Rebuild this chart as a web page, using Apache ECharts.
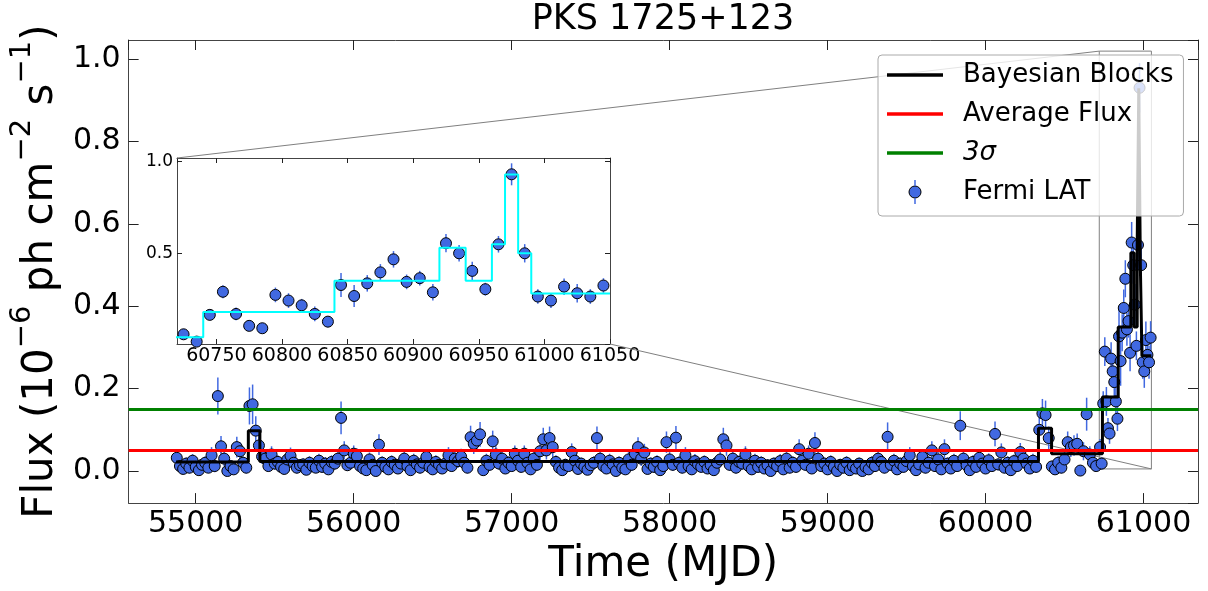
<!DOCTYPE html>
<html>
<head>
<meta charset="utf-8">
<script src="https://cdn.jsdelivr.net/npm/echarts@6.0.0/dist/echarts.min.js"></script>
<style>html,body{margin:0;padding:0;background:#fff;}#c{width:1208px;height:591px;}</style>
</head>
<body>
<div id="c"></div>
<script>
// ---------------- data ----------------
const tPre = [
54880,54900,54920,54940,54960,54980,55000,55020,55040,55060,
55080,55100,55120,55140,55160,55180,55200,55220,55240,55260,
55280,55300,55320,55340,55360,55380,55400,55420,55440,55460,
55480,55500,55520,55540,55560,55580,55600,55620,55640,55660,
55680,55700,55720,55740,55760,55780,55800,55820,55840,55860,
55880,55900,55920,55940,55960,55980,56000,56020,56040,56060,
56080,56100,56120,56140,56160,56180,56200,56220,56240,56260,
56280,56300,56320,56340,56360,56380,56400,56420,56440,56460,
56480,56500,56520,56540,56560,56580,56600,56620,56640,56660,
56680,56700,56720,56740,56760,56780,56800,56820,56840,56860,
56880,56900,56920,56940,56960,56980,57000,57020,57040,57060,
57080,57100,57120,57140,57160,57180,57200,57220,57240,57260,
57280,57300,57320,57340,57360,57380,57400,57420,57440,57460,
57480,57500,57520,57540,57560,57580,57600,57620,57640,57660,
57680,57700,57720,57740,57760,57780,57800,57820,57840,57860,
57880,57900,57920,57940,57960,57980,58000,58020,58040,58060,
58080,58100,58120,58140,58160,58180,58200,58220,58240,58260,
58280,58300,58320,58340,58360,58380,58400,58420,58440,58460,
58480,58500,58520,58540,58560,58580,58600,58620,58640,58660,
58680,58700,58720,58740,58760,58780,58800,58820,58840,58860,
58880,58900,58920,58940,58960,58980,59000,59020,59040,59060,
59080,59100,59120,59140,59160,59180,59200,59220,59240,59260,
59280,59300,59320,59340,59360,59380,59400,59420,59440,59460,
59480,59500,59520,59540,59560,59580,59600,59620,59640,59660,
59680,59700,59720,59740,59760,59780,59800,59820,59840,59860,
59880,59900,59920,59940,59960,59980,60000,60020,60040,60060,
60080,60100,60120,60140,60160,60180,60200,60220,60240,60260,
60280,60300,60320,60340,60360,60380,60400,60420,60440,60460,
60480,60500,60520,60540,60560,60580,60600,60620,60640,60660,
60680,60700];
const fPre = [
0.032,0.012,0.005,0.018,0.008,0.025,0.010,0.002,0.015,0.020,
0.008,0.038,0.012,0.182,0.060,0.030,0.000,0.012,0.004,0.058,
0.048,0.020,0.008,0.158,0.162,0.098,0.062,0.035,0.030,0.012,
0.040,0.018,0.022,0.010,0.005,0.028,0.037,0.020,0.008,0.014,
0.016,0.003,0.020,0.012,0.008,0.025,0.010,0.018,0.004,0.022,
0.018,0.030,0.129,0.050,0.014,0.020,0.042,0.036,0.012,0.006,
0.002,0.028,0.015,0.000,0.064,0.020,0.010,0.004,0.022,0.015,
0.006,0.018,0.030,0.012,0.002,0.025,0.016,0.008,0.020,0.034,
0.010,0.004,0.022,0.015,0.006,0.018,0.038,0.012,0.030,0.024,
0.035,0.020,0.008,0.082,0.066,0.074,0.089,0.002,0.025,0.015,
0.072,0.040,0.018,0.030,0.006,0.020,0.012,0.042,0.025,0.010,
0.042,0.020,0.004,0.030,0.015,0.048,0.077,0.050,0.080,0.058,
0.022,0.008,0.002,0.015,0.012,0.046,0.025,0.005,0.018,0.010,
0.003,0.014,0.020,0.080,0.030,0.012,0.006,0.025,0.016,0.000,
0.020,0.008,0.004,0.028,0.015,0.042,0.058,0.030,0.045,0.005,
0.018,0.010,0.022,0.002,0.012,0.070,0.028,0.015,0.081,0.020,
0.008,0.038,0.012,0.004,0.024,0.016,0.010,0.022,0.006,0.014,
0.002,0.020,0.028,0.077,0.062,0.015,0.030,0.008,0.022,0.018,
0.040,0.012,0.004,0.025,0.010,0.020,0.006,0.014,0.000,0.018,
0.012,0.024,0.004,0.030,0.008,0.020,0.010,0.053,0.025,0.015,
0.042,0.006,0.068,0.030,0.012,0.018,0.004,0.022,0.010,0.000,
0.015,0.008,0.020,0.002,0.012,0.006,0.018,0.000,0.010,0.004,
0.020,0.012,0.030,0.022,0.008,0.083,0.015,0.025,0.004,0.018,
0.010,0.024,0.038,0.012,0.002,0.016,0.034,0.008,0.020,0.050,
0.012,0.028,0.004,0.053,0.018,0.006,0.025,0.012,0.110,0.030,
0.014,0.002,0.022,0.010,0.032,0.018,0.006,0.026,0.012,0.090,
0.016,0.045,0.008,0.020,0.002,0.024,0.012,0.046,0.030,0.018,
0.006,0.025,0.010,0.100,0.140,0.136,0.080,0.011,0.004,0.020,
0.008,0.028,0.070,0.058,0.062,0.066,0.001,0.048,0.138,0.040,
0.020,0.012];
const ePre = [
0.016,0.014,0.013,0.015,0.014,0.016,0.014,0.012,0.015,0.016,
0.013,0.020,0.015,0.045,0.025,0.018,0.012,0.015,0.013,0.025,
0.022,0.016,0.014,0.045,0.048,0.035,0.025,0.018,0.018,0.014,
0.020,0.015,0.016,0.014,0.013,0.017,0.020,0.016,0.014,0.015,
0.015,0.012,0.016,0.014,0.013,0.017,0.014,0.016,0.012,0.016,
0.015,0.018,0.040,0.022,0.014,0.016,0.020,0.019,0.014,0.013,
0.012,0.017,0.015,0.012,0.025,0.016,0.014,0.013,0.016,0.015,
0.013,0.015,0.018,0.014,0.012,0.017,0.015,0.014,0.016,0.019,
0.014,0.013,0.016,0.015,0.013,0.015,0.020,0.014,0.018,0.017,
0.019,0.016,0.014,0.028,0.025,0.026,0.030,0.012,0.017,0.015,
0.026,0.020,0.015,0.018,0.013,0.016,0.014,0.020,0.017,0.014,
0.020,0.016,0.013,0.018,0.015,0.022,0.028,0.022,0.028,0.024,
0.016,0.014,0.012,0.015,0.014,0.021,0.017,0.013,0.015,0.014,
0.012,0.015,0.016,0.028,0.018,0.014,0.013,0.017,0.015,0.012,
0.016,0.014,0.013,0.018,0.015,0.020,0.024,0.018,0.021,0.013,
0.015,0.014,0.016,0.012,0.014,0.026,0.018,0.015,0.028,0.016,
0.014,0.020,0.014,0.013,0.017,0.015,0.014,0.016,0.013,0.015,
0.012,0.016,0.018,0.028,0.025,0.015,0.018,0.014,0.016,0.015,
0.020,0.014,0.013,0.017,0.014,0.016,0.013,0.015,0.012,0.015,
0.014,0.017,0.013,0.018,0.014,0.016,0.014,0.024,0.017,0.015,
0.020,0.013,0.026,0.018,0.014,0.015,0.013,0.016,0.014,0.012,
0.015,0.014,0.016,0.012,0.014,0.013,0.015,0.012,0.014,0.013,
0.016,0.014,0.018,0.016,0.014,0.035,0.015,0.017,0.013,0.015,
0.014,0.017,0.020,0.014,0.012,0.015,0.019,0.014,0.016,0.022,
0.014,0.018,0.013,0.024,0.015,0.013,0.017,0.014,0.035,0.018,
0.014,0.012,0.016,0.014,0.018,0.015,0.013,0.017,0.014,0.030,
0.015,0.022,0.014,0.016,0.012,0.016,0.014,0.022,0.018,0.015,
0.013,0.017,0.014,0.030,0.035,0.035,0.028,0.014,0.013,0.016,
0.014,0.018,0.026,0.024,0.025,0.025,0.012,0.022,0.040,0.020,
0.016,0.014];
const tFlare = [60725,60735,60745,60755,60765,60775,60785,60795,60805,60815,60825,60835,60845,60855,60865,60875,60885,60895,60905,60915,60925,60935,60945,60955,60965,60975,60985,60995,61005,61015,61025,61035,61045];
const fFlare = [0.058,0.018,0.164,0.290,0.169,0.104,0.091,0.273,0.242,0.216,0.169,0.127,0.327,0.267,0.336,0.396,0.467,0.344,0.364,0.287,0.555,0.500,0.404,0.304,0.549,0.931,0.500,0.264,0.242,0.318,0.282,0.264,0.324];
const eFlare = [0.020,0.015,0.030,0.035,0.035,0.025,0.025,0.040,0.040,0.035,0.040,0.030,0.065,0.060,0.045,0.045,0.045,0.040,0.040,0.045,0.050,0.045,0.050,0.035,0.045,0.060,0.050,0.040,0.040,0.045,0.050,0.040,0.040];
// Bayesian blocks: edges and block levels
const bbEdges = [54875,55333,55406,60335,60418,60740,60840,60920,60940,60960,60970,60980,60990,61050];
const bbLevels = [0.022,0.098,0.023,0.104,0.042,0.180,0.350,0.530,0.350,0.550,0.930,0.500,0.280];
const avgFlux = 0.052;
const threeSigma = 0.153;
// axis ranges
const mainX = [54575, 61345];
const mainY = [-0.078, 1.047];
const insetX = [60720, 61050];
const insetY = [0.005, 1.02];
const titleText = 'PKS 1725+123';
const legendNames = ['Bayesian Blocks', 'Average Flux', '3σ', 'Fermi LAT'];

// ---------------- build ----------------
const allT = tPre.concat(tFlare), allF = fPre.concat(fFlare), allE = ePre.concat(eFlare);
const pts = allT.map((t, i) => [t, allF[i]]);
const errs = allT.map((t, i) => [t, allF[i] - allE[i], allF[i] + allE[i]]);
const insPts = tFlare.map((t, i) => [t, fFlare[i]]);
const insErrs = tFlare.map((t, i) => [t, fFlare[i] - eFlare[i], fFlare[i] + eFlare[i]]);
const bbPts = [];
for (let i = 0; i < bbLevels.length; i++) { bbPts.push([bbEdges[i], bbLevels[i]], [bbEdges[i + 1], bbLevels[i]]); }

const FF = 'DejaVu Sans';
const BLUE = '#4169E1';
const frame = '#444';

function errRender(params, api) {
  const x = api.value(0);
  const p1 = api.coord([x, api.value(1)]);
  const p2 = api.coord([x, api.value(2)]);
  return { type: 'line', shape: { x1: p1[0], y1: p1[1], x2: p2[0], y2: p2[1] }, style: { stroke: BLUE, lineWidth: 1.5 } };
}
function xAx(grid, pos, range, split, show, fs, tickLen, name) {
  const o = {
    type: 'value', gridIndex: grid, position: pos, min: range[0], max: range[1], splitNumber: split,
    axisLine: { show: true, onZero: false, lineStyle: { color: frame, width: 1 } },
    axisTick: { show: true, inside: true, length: tickLen, lineStyle: { color: '#222', width: 1 } },
    splitLine: { show: false },
    axisLabel: { show: show, fontSize: fs, fontFamily: FF, color: '#000', margin: grid === 0 ? 6 : 3,
      showMinLabel: false, showMaxLabel: grid === 1, formatter: v => String(v) }
  };
  if (name) { Object.assign(o, name); }
  return o;
}
function yAx(grid, pos, range, split, show, fs, tickLen, name) {
  const o = {
    type: 'value', gridIndex: grid, position: pos, min: range[0], max: range[1], splitNumber: split,
    axisLine: { show: true, onZero: false, lineStyle: { color: frame, width: 1 } },
    axisTick: { show: true, inside: true, length: tickLen, lineStyle: { color: '#222', width: 1 } },
    splitLine: { show: false },
    axisLabel: { show: show, fontSize: fs, fontFamily: FF, color: '#000', margin: grid === 0 ? 8 : 4,
      showMinLabel: false, showMaxLabel: false, formatter: v => v.toFixed(1) }
  };
  if (name) { Object.assign(o, name); }
  return o;
}

const LEG = { left: 878, top: 55, padL: 9, padT: 7, iconW: 56, rowH: 26, gap: 13 };

const chart = echarts.init(document.getElementById('c'), null, { renderer: 'canvas' });
const option = {
  animation: false,
  backgroundColor: '#fff',
  title: { text: titleText, left: 658, textAlign: 'center', top: -3,
    textStyle: { fontSize: 35, fontWeight: 'normal', fontFamily: FF, color: '#000' } },
  grid: [
    { left: 117, top: 40, width: 1081, height: 468, containLabel: false },
    { left: 177, top: 158, width: 433, height: 186, show: true, backgroundColor: '#fff', borderWidth: 0, containLabel: false }
  ],
  legend: {
    orient: 'vertical', left: LEG.left, top: LEG.top,
    itemWidth: LEG.iconW, itemHeight: 12, itemGap: LEG.gap,
    padding: [LEG.padT, 10, 11, LEG.padL],
    backgroundColor: 'rgba(255,255,255,0.8)', borderColor: '#aaa', borderWidth: 1, borderRadius: 4,
    selectedMode: false,
    formatter: n => n === '3σ' ? '{i|3σ}' : '{t|' + n + '}',
    textStyle: { fontSize: 26, fontFamily: FF, color: '#000',
      rich: { t: { fontSize: 26, fontFamily: FF, color: '#000', padding: [0, 0, 0, 15] },
              i: { fontSize: 26, fontFamily: FF, color: '#000', fontStyle: 'italic', padding: [0, 0, 0, 15] } } },
    data: [
      { name: legendNames[0], icon: 'path://M0,0H56V3.5H0Z' },
      { name: legendNames[1], icon: 'path://M0,0H56V3.5H0Z' },
      { name: legendNames[2], icon: 'path://M0,0H56V3.5H0Z' },
      { name: legendNames[3], icon: 'circle', itemStyle: { color: BLUE, borderColor: '#000', borderWidth: 1 } }
    ]
  },
  xAxis: [
    xAx(0, 'bottom', mainX, 7, true, 30, 10, { name: 'Time (MJD)', nameLocation: 'middle', nameGap: 36,
      nameTextStyle: { fontSize: 42, fontFamily: FF, color: '#000' } }),
    xAx(0, 'top', mainX, 7, false, 30, 10),
    xAx(1, 'bottom', insetX, 7, true, 19, 5),
    xAx(1, 'top', insetX, 7, false, 19, 5)
  ],
  yAxis: [
    yAx(0, 'left', mainY, 5, true, 30, 10, {
      name: '{a|Flux (10}{b|−6}{a| ph cm}{b|−2}{a| s}{b|−1}{a|)}', nameLocation: 'middle', nameGap: 50,
      nameTextStyle: { fontFamily: FF, color: '#000', rich: {
        a: { fontSize: 42, fontFamily: FF, color: '#000', lineHeight: 54, verticalAlign: 'bottom' },
        b: { fontSize: 29, fontFamily: FF, color: '#000', lineHeight: 29, verticalAlign: 'top' } } } }),
    yAx(0, 'right', mainY, 5, false, 30, 10),
    yAx(1, 'left', insetY, 2, true, 17, 5),
    yAx(1, 'right', insetY, 2, false, 17, 5)
  ],
  series: [
    { name: legendNames[1], type: 'line', xAxisIndex: 0, yAxisIndex: 0, data: [], color: '#ff0000',
      itemStyle: { color: '#ff0000' }, lineStyle: { color: '#ff0000', width: 3 },
      markLine: { silent: true, symbol: 'none', label: { show: false }, lineStyle: { color: '#ff0000', width: 3, type: 'solid' },
        data: [{ yAxis: avgFlux }] } },
    { name: legendNames[2], type: 'line', xAxisIndex: 0, yAxisIndex: 0, data: [], color: '#008000',
      itemStyle: { color: '#008000' }, lineStyle: { color: '#008000', width: 3 },
      markLine: { silent: true, symbol: 'none', label: { show: false }, lineStyle: { color: '#008000', width: 3, type: 'solid' },
        data: [{ yAxis: threeSigma }] } },
    { name: legendNames[0], type: 'line', xAxisIndex: 0, yAxisIndex: 0, data: bbPts, showSymbol: false, color: '#000',
      itemStyle: { color: '#000' }, lineStyle: { color: '#000', width: 3 } },
    { name: 'err', type: 'custom', xAxisIndex: 0, yAxisIndex: 0, data: errs, renderItem: errRender,
      encode: { x: 0, y: [1, 2] }, silent: true },
    { name: legendNames[3], type: 'scatter', xAxisIndex: 0, yAxisIndex: 0, data: pts, symbolSize: 11,
      itemStyle: { color: BLUE, borderColor: '#000', borderWidth: 1, opacity: 1 }, color: BLUE },
    { name: 'inset BB', type: 'line', xAxisIndex: 2, yAxisIndex: 2, data: bbPts, showSymbol: false, clip: true,
      lineStyle: { color: '#00ffff', width: 2 }, itemStyle: { color: '#00ffff' } },
    { name: 'inset err', type: 'custom', xAxisIndex: 2, yAxisIndex: 2, data: insErrs, renderItem: errRender, clip: true,
      encode: { x: 0, y: [1, 2] }, silent: true },
    { name: 'inset pts', type: 'scatter', xAxisIndex: 2, yAxisIndex: 2, data: insPts, symbolSize: 11, clip: true,
      itemStyle: { color: BLUE, borderColor: '#000', borderWidth: 1, opacity: 1 } }
  ]
};
chart.setOption(option);

// zoom-region rectangle and connector lines (computed through the axes)
const A = chart.convertToPixel({ xAxisIndex: 2, yAxisIndex: 2 }, [insetX[0], insetY[1]]);
const B = chart.convertToPixel({ xAxisIndex: 0, yAxisIndex: 0 }, [insetX[0], insetY[1]]);
const C = chart.convertToPixel({ xAxisIndex: 2, yAxisIndex: 2 }, [insetX[1], insetY[0]]);
const D = chart.convertToPixel({ xAxisIndex: 0, yAxisIndex: 0 }, [insetX[1], insetY[0]]);
// errorbar stroke of the "Fermi LAT" legend key
const lx = LEG.left + LEG.padL + LEG.iconW / 2;
const ly = LEG.top + LEG.padT + 3 * (LEG.rowH + LEG.gap) + LEG.rowH / 2;
chart.setOption({ graphic: [
  { type: 'rect', z: 1, silent: true, shape: { x: B[0], y: B[1], width: D[0] - B[0], height: D[1] - B[1] },
    style: { fill: 'none', stroke: '#808080', lineWidth: 1 } },
  { type: 'line', z: 1, silent: true, shape: { x1: A[0], y1: A[1], x2: B[0], y2: B[1] }, style: { stroke: '#808080', lineWidth: 1 } },
  { type: 'line', z: 1, silent: true, shape: { x1: C[0], y1: C[1], x2: D[0], y2: D[1] }, style: { stroke: '#808080', lineWidth: 1 } },
  { type: 'line', z: 10, silent: true, shape: { x1: lx, y1: ly - 12, x2: lx, y2: ly - 6 }, style: { stroke: BLUE, lineWidth: 1.5 } },
  { type: 'line', z: 10, silent: true, shape: { x1: lx, y1: ly + 6, x2: lx, y2: ly + 12 }, style: { stroke: BLUE, lineWidth: 1.5 } }
] });
</script>
</body>
</html>
